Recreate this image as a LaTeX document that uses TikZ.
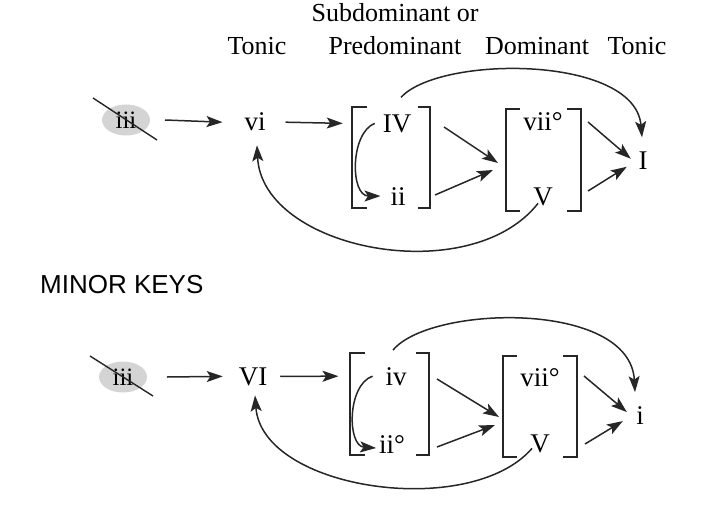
\documentclass[tikz,border=0pt]{standalone}
\usepackage{fontspec}
\setmainfont{Liberation Serif}
\newfontfamily\labelsans{Liberation Sans}
\usetikzlibrary{arrows.meta,shapes.geometric}
\begin{document}
\begin{tikzpicture}[x=1pt,y=-1pt,
  ln/.style={line width=1.5pt, draw=black!85},
  arr/.style={ln, -{Stealth[length=16pt,width=11pt,inset=3.5pt]}},
  num/.style={inner sep=0pt, outer sep=0pt, anchor=base, font=\fontsize{27}{31}\selectfont},
  hdr/.style={inner sep=0pt, outer sep=0pt, anchor=base, font=\fontsize{26}{30}\selectfont},
  crossed/.style={ellipse, fill=black!17, inner sep=0pt, outer sep=0pt, minimum width=48pt, minimum height=31pt, font=\fontsize{25}{29}\selectfont},
  brk/.style={inner sep=0pt, outer sep=0pt, minimum width=#1},
  slash/.style={line width=1.4pt, draw=black!85}
]
\useasboundingbox (0,0) rectangle (714,508);

% headers
\node[hdr] (hsub) at (395,22) {Subdominant or};
\node[hdr] (htonA) at (257,55) {Tonic};
\node[hdr] (hpre) at (395,55) {Predominant};
\node[hdr] (hdom) at (537,55) {Dominant};
\node[hdr] (htonB) at (637,55) {Tonic};

% ---------- major ----------
\node[crossed] (iiiA) at (126,120) {iii};
\draw[slash] ([shift={(-33,-22)}]iiiA.center) -- ([shift={(31,20)}]iiiA.center);
\node[num] (vi) at (255,131) {vi};
\node[num] (IV) at (397,132) {IV};
\node[num] (ii) at (398,205) {ii};
\node[num] (viiA) at (543,131) {vii°};
\node[num] (VA) at (543,205) {V};
\node[num] (I) at (643,169) {I};

\node[brk=78pt, minimum height=101pt] (b1M) at (391,157.5) {};
\node[brk=75pt, minimum height=102pt] (b2M) at (543.5,160) {};
\draw[ln] ([xshift=15]b1M.north west) -| (b1M.south west) -- ++(15,0);
\draw[ln] ([xshift=-12]b1M.north east) -| (b1M.south east) -- ++(-12,0);
\draw[ln] ([xshift=14]b2M.north west) -| (b2M.south west) -- ++(14,0);
\draw[ln] ([xshift=-14]b2M.north east) -| (b2M.south east) -- ++(-14,0);

\draw[arr] ([xshift=15]iiiA.east) -- ([xshift=-22]vi.west);
\draw[arr] ([xshift=20]vi.east) -- ([xshift=-40]IV.west);
\draw[arr] ([xshift=-8]IV.west) .. controls (350,133) and (350,196) .. ([xshift=-10]ii.west);
\draw[arr] ([shift={(14,-30.5)}]b1M.east) -- ([shift={(-8,3)}]b2M.west);
\draw[arr] ([shift={(5,37.5)}]b1M.east) -- ([shift={(-13,10)}]b2M.west);
\draw[arr] ([shift={(7,-38)}]b2M.east) -- ([shift={(-7.7,-1.4)}]I.west);
\draw[arr] ([shift={(7,31)}]b2M.east) -- ([shift={(-11.7,6.6)}]I.west);
\draw[arr] ([shift={(4,-17)}]IV.north) .. controls (440,55) and (635,55) .. ([shift={(-1,-14)}]I.north);
\draw[arr] ([shift={(-5,-2)}]VA.south) .. controls (470,290) and (262,250) .. ([shift={(2,14)}]vi.south);

% ---------- minor ----------
\node[anchor=base west, inner sep=0pt, font=\labelsans\fontsize{26}{30}\selectfont] (mk) at (40,293) {MINOR KEYS};

\node[crossed] (iiiB) at (123,377) {iii};
\draw[slash] ([shift={(-33,-21)}]iiiB.center) -- ([shift={(30,19)}]iiiB.center);
\node[num] (VI) at (253,385) {VI};
\node[num] (iv) at (396,385) {iv};
\node[num] (iio) at (392,453) {ii°};
\node[num] (viiB) at (540,386) {vii°};
\node[num] (VB) at (540,452) {V};
\node[num] (i) at (640,424) {i};

\node[brk=79pt, minimum height=102pt] (b1m) at (389.5,404) {};
\node[brk=74pt, minimum height=101pt] (b2m) at (540,406.5) {};
\draw[ln] ([xshift=15]b1m.north west) -| (b1m.south west) -- ++(15,0);
\draw[ln] ([xshift=-13]b1m.north east) -| (b1m.south east) -- ++(-13,0);
\draw[ln] ([xshift=14]b2m.north west) -| (b2m.south west) -- ++(14,0);
\draw[ln] ([xshift=-14]b2m.north east) -| (b2m.south east) -- ++(-14,0);

\draw[arr] ([xshift=20]iiiB.east) -- ([xshift=-16]VI.west);
\draw[arr] ([xshift=13]VI.east) -- ([xshift=-47]iv.west);
\draw[arr] ([xshift=-13]iv.west) .. controls (347,385) and (347,446) .. ([shift={(-3,4)}]iio.west);
\draw[arr] ([shift={(8,-25)}]b1m.east) -- ([shift={(-4,10.5)}]b2m.west);
\draw[arr] ([shift={(8,43)}]b1m.east) -- ([shift={(-8,18.5)}]b2m.west);
\draw[arr] ([shift={(7,-30.5)}]b2m.east) -- ([shift={(-9.4,-3)}]i.west);
\draw[arr] ([shift={(8,37.5)}]b2m.east) -- ([shift={(-13.4,6)}]i.west);
\draw[arr] ([shift={(-3,-17)}]iv.north) .. controls (430,305) and (630,300) .. ([shift={(-5,-14)}]i.north);
\draw[arr] ([shift={(-8,-4)}]VB.south) .. controls (470,520) and (262,490) .. ([shift={(2,10)}]VI.south);
\end{tikzpicture}
\end{document}
